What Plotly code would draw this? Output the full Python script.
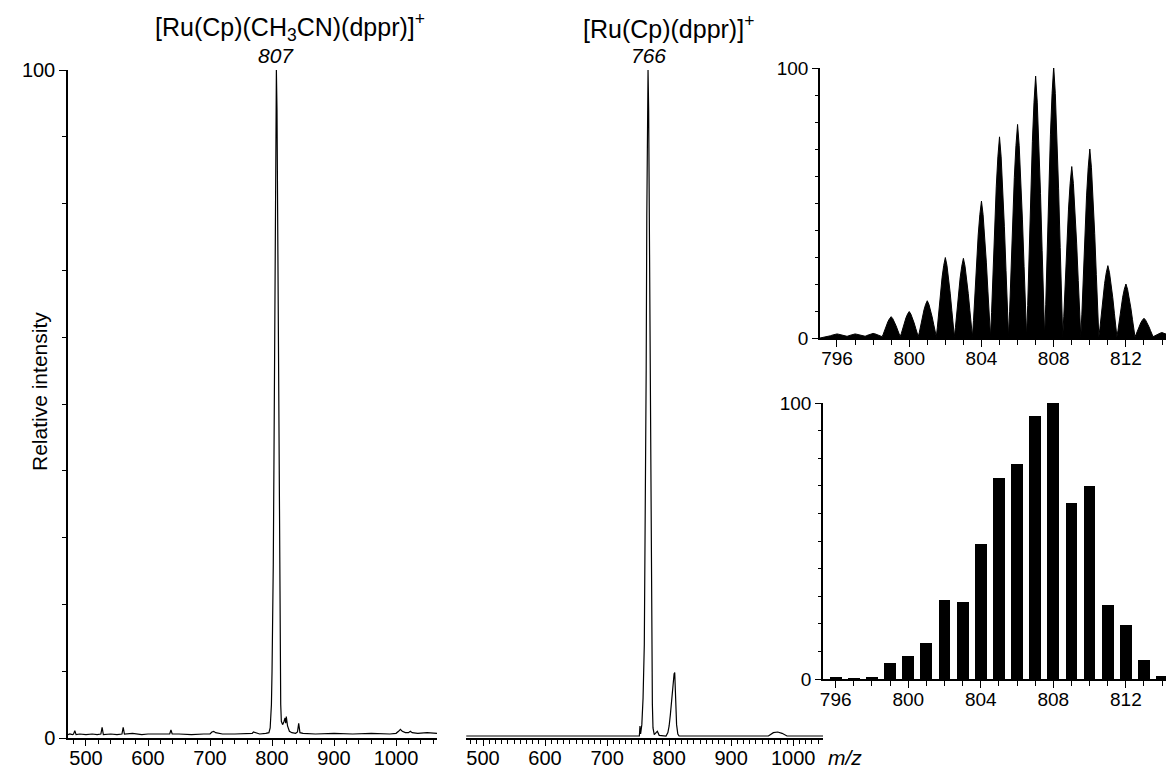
import plotly.graph_objects as go

# ---------------- data ----------------
# Left spectrum: [Ru(Cp)(CH3CN)(dppr)]+
left_mz = [471, 474, 478, 480, 482, 484, 490, 500, 510, 518,
           524, 526, 528, 540, 550, 558, 560, 562, 575, 590,
           600, 615, 630, 635, 637, 639, 650, 670, 690, 700,
           703, 706, 709, 720, 740, 760, 768, 770, 780, 790,
           795, 797, 799, 800, 801, 802, 803, 804, 805, 806,
           807, 808, 809, 810, 811, 812, 813, 814, 815, 817,
           819, 821, 822, 823, 825, 828, 832, 838, 841, 843,
           845, 850, 870, 900, 930, 960, 990, 1000, 1004, 1007,
           1010, 1015, 1020, 1023, 1026, 1035, 1050, 1066]
left_int = [0.5, 0.6, 0.5, 0.6, 1.1, 0.5, 0.6, 0.5, 0.6, 0.5,
            0.6, 1.6, 0.5, 0.6, 0.5, 0.6, 1.6, 0.6, 0.7, 0.5,
            0.6, 0.6, 0.7, 0.6, 1.2, 0.6, 0.6, 0.5, 0.6, 0.6,
            0.9, 1.0, 0.8, 0.6, 0.6, 0.6, 0.7, 0.9, 0.6, 0.7,
            0.8, 1.5, 5.0, 10, 16, 26, 40, 58, 78, 93,
            100, 94, 80, 60, 40, 22, 11, 5.0, 2.5, 2.0,
            2.4, 3.0, 2.2, 3.2, 1.8, 1.0, 0.8, 0.7, 0.9, 2.2,
            0.8, 0.7, 0.6, 0.7, 0.6, 0.7, 0.6, 0.7, 1.0, 1.3,
            1.0, 0.8, 0.8, 1.0, 0.8, 0.7, 0.8, 0.7]

# Middle spectrum: [Ru(Cp)(dppr)]+
mid_mz = [473, 500, 550, 600, 650, 700, 730, 750, 752, 753,
          754, 756, 758, 760, 762, 763, 764, 765, 766, 767,
          768, 769, 770, 771, 772, 773, 774, 776, 779, 781,
          784, 790, 795, 798, 800, 802, 804, 806, 808, 809,
          810, 811, 812, 814, 816, 830, 870, 920, 960, 968,
          975, 982, 990, 1010, 1048]
mid_int = [0.3, 0.3, 0.3, 0.3, 0.3, 0.4, 0.3, 0.3, 0.3, 1.8,
           0.6, 2.0, 6.0, 14, 35, 55, 78, 94, 100, 94,
           80, 60, 40, 22, 12, 5.0, 1.5, 0.5, 0.8, 1.0,
           0.4, 0.3, 0.3, 0.8, 1.8, 3.5, 5.8, 8.2, 9.6, 9.8,
           7.5, 4.5, 2.0, 0.6, 0.3, 0.3, 0.3, 0.4, 0.3, 0.8,
           0.9, 0.7, 0.3, 0.3, 0.3]

# Isotope pattern (insets)
iso_mz = [796, 797, 798, 799, 800, 801, 802, 803, 804, 805,
          806, 807, 808, 809, 810, 811, 812, 813, 814]
obs_int = [1.0, 1.0, 1.2, 7.4, 9.3, 13.3, 29.3, 29.0, 50.2, 74.0,
           78.6, 96.5, 100, 63.0, 69.5, 26.3, 19.5, 6.8, 1.5]
calc_int = [0.8, 0.3, 0.5, 5.7, 8.5, 13.0, 28.7, 28.0, 49.0, 72.7,
            78.0, 95.2, 100, 63.8, 70.0, 26.8, 19.7, 7.0, 1.2]

# peak profile of the observed isotope lines (offset in m/z, fraction of height)
profile_offset = [-0.5, -0.44, -0.36, -0.27, -0.18, -0.09, 0.0,
                  0.09, 0.18, 0.27, 0.36, 0.44, 0.5]
profile_shape = [0.0, 0.12, 0.33, 0.55, 0.75, 0.9, 1.0,
                 0.9, 0.75, 0.55, 0.33, 0.12, 0.0]

x_ticks_main = [500, 600, 700, 800, 900, 1000]
x_ticks_iso = [796, 800, 804, 808, 812]

# ---------------- build ----------------
OFF = 8                      # page body margin
W, H = 1166, 763
FONT = "Liberation Sans, Arial, Helvetica, sans-serif"


def px_x(a, b):
    return [(a - OFF) / W, (b - OFF) / W]


def px_y(top, bottom):
    return [(H - (bottom - OFF)) / H, (H - (top - OFF)) / H]


def fx(a):
    return (a - OFF) / W


def fy(b):
    return 1 - (b - OFF) / H


prof_x, prof_y = [795.06], [0.0]
for m, h in zip(iso_mz, obs_int):
    for o, s in zip(profile_offset, profile_shape):
        prof_x.append(m + o)
        prof_y.append(0.5 + h * s)
prof_x.append(814.44)
prof_y.append(0.6)

fig = go.Figure()
fig.add_trace(go.Scatter(x=left_mz, y=left_int, mode="lines",
                         line=dict(color="black", width=1.2),
                         xaxis="x", yaxis="y", showlegend=False))
fig.add_trace(go.Scatter(x=mid_mz, y=mid_int, mode="lines",
                         line=dict(color="black", width=1.2),
                         xaxis="x2", yaxis="y2", showlegend=False))
fig.add_trace(go.Scatter(x=prof_x, y=prof_y, mode="lines", fill="tozeroy",
                         fillcolor="black", line=dict(color="black", width=1),
                         xaxis="x3", yaxis="y3", showlegend=False))
fig.add_trace(go.Bar(x=iso_mz, y=calc_int, width=0.65,
                     marker=dict(color="black", line=dict(width=0)),
                     xaxis="x4", yaxis="y4", showlegend=False))

axis_common = dict(showline=True, linecolor="black", linewidth=1.5,
                   showgrid=False, zeroline=False, ticks="outside",
                   automargin=False,
                   tickcolor="black", tickwidth=1.3,
                   tickfont=dict(family=FONT, size=20, color="black"))

fig.update_layout(
    template="none",
    width=W, height=H, margin=dict(l=0, r=0, t=0, b=0, pad=0, autoexpand=False),
    paper_bgcolor="white", plot_bgcolor="white", bargap=0, showlegend=False,
    xaxis=dict(axis_common, domain=px_x(68, 437), range=[471, 1066],
               tickmode="array", tickvals=x_ticks_main, ticklen=6,
               ticklabelstandoff=-5,
               minor=dict(tickmode="linear", tick0=480, dtick=20, ticklen=4,
                          ticks="outside", tickcolor="black", tickwidth=1),
               anchor="y"),
    yaxis=dict(axis_common, domain=px_y(70, 738), range=[0, 100],
               tickmode="linear", tick0=0, dtick=100, ticklen=7,
               minor=dict(dtick=10, ticklen=4, ticks="outside",
                          tickcolor="black", tickwidth=1),
               anchor="x"),
    xaxis2=dict(axis_common, domain=px_x(466, 823), range=[472.6, 1048],
                tickmode="array", tickvals=x_ticks_main, ticklen=6,
                ticklabelstandoff=-5,
                minor=dict(tickmode="linear", tick0=480, dtick=10, ticklen=4,
                           ticks="outside", tickcolor="black", tickwidth=1),
                anchor="y2"),
    yaxis2=dict(domain=px_y(70, 738), range=[0, 100], visible=False,
                automargin=False, anchor="x2"),
    xaxis3=dict(axis_common, domain=px_x(820, 1170), range=[795.06, 814.44],
                tickmode="array", tickvals=x_ticks_iso, ticklen=7,
                ticklabelstandoff=-5,
                tickfont=dict(family=FONT, size=19, color="black"),
                minor=dict(tickmode="linear", tick0=796, dtick=1, ticklen=5,
                           ticks="outside", tickcolor="black", tickwidth=1.3),
                anchor="y3"),
    yaxis3=dict(axis_common, domain=px_y(68, 338), range=[0, 100],
                tickmode="linear", tick0=0, dtick=100, ticklen=6,
                tickfont=dict(family=FONT, size=19, color="black"),
                minor=dict(dtick=10, ticklen=3, ticks="outside",
                           tickcolor="black", tickwidth=1),
                anchor="x3"),
    xaxis4=dict(axis_common, domain=px_x(823, 1173), range=[795.3, 814.6],
                tickmode="array", tickvals=x_ticks_iso, ticklen=7,
                ticklabelstandoff=-5,
                tickfont=dict(family=FONT, size=19, color="black"),
                minor=dict(tickmode="linear", tick0=796, dtick=1, ticklen=5,
                           ticks="outside", tickcolor="black", tickwidth=1.3),
                anchor="y4"),
    yaxis4=dict(axis_common, domain=px_y(403, 679), range=[0, 100],
                tickmode="linear", tick0=0, dtick=100, ticklen=6,
                tickfont=dict(family=FONT, size=19, color="black"),
                minor=dict(dtick=10, ticklen=3, ticks="outside",
                           tickcolor="black", tickwidth=1),
                anchor="x4"),
)

ann_font = dict(family=FONT, size=25, color="black")
num_font = dict(family=FONT, size=21, color="black")
fig.add_annotation(text="[Ru(Cp)(CH<sub>3</sub>CN)(dppr)]<sup>+</sup>",
                   x=fx(290), y=fy(27), xref="paper", yref="paper",
                   showarrow=False, font=ann_font, xanchor="center", yanchor="middle")
fig.add_annotation(text="<i>807</i>", x=807, xref="x", y=fy(55), yref="paper",
                   showarrow=False, font=num_font, xanchor="center", yanchor="middle")
fig.add_annotation(text="[Ru(Cp)(dppr)]<sup>+</sup>",
                   x=fx(669), y=fy(27), xref="paper", yref="paper",
                   showarrow=False, font=ann_font, xanchor="center", yanchor="middle")
fig.add_annotation(text="<i>766</i>", x=766, xref="x2", y=fy(55), yref="paper",
                   showarrow=False, font=num_font, xanchor="center", yanchor="middle")
fig.add_annotation(text="<i>m/z</i>", x=fx(826), y=fy(757), xref="paper", yref="paper",
                   showarrow=False, font=dict(family=FONT, size=21, color="black"),
                   xanchor="left", yanchor="middle")
fig.add_annotation(text="Relative intensity", x=fx(40), y=fy(392),
                   xref="paper", yref="paper", textangle=-90, showarrow=False,
                   font=dict(family=FONT, size=21, color="black"),
                   xanchor="center", yanchor="middle")

fig.write_html("out.html")
